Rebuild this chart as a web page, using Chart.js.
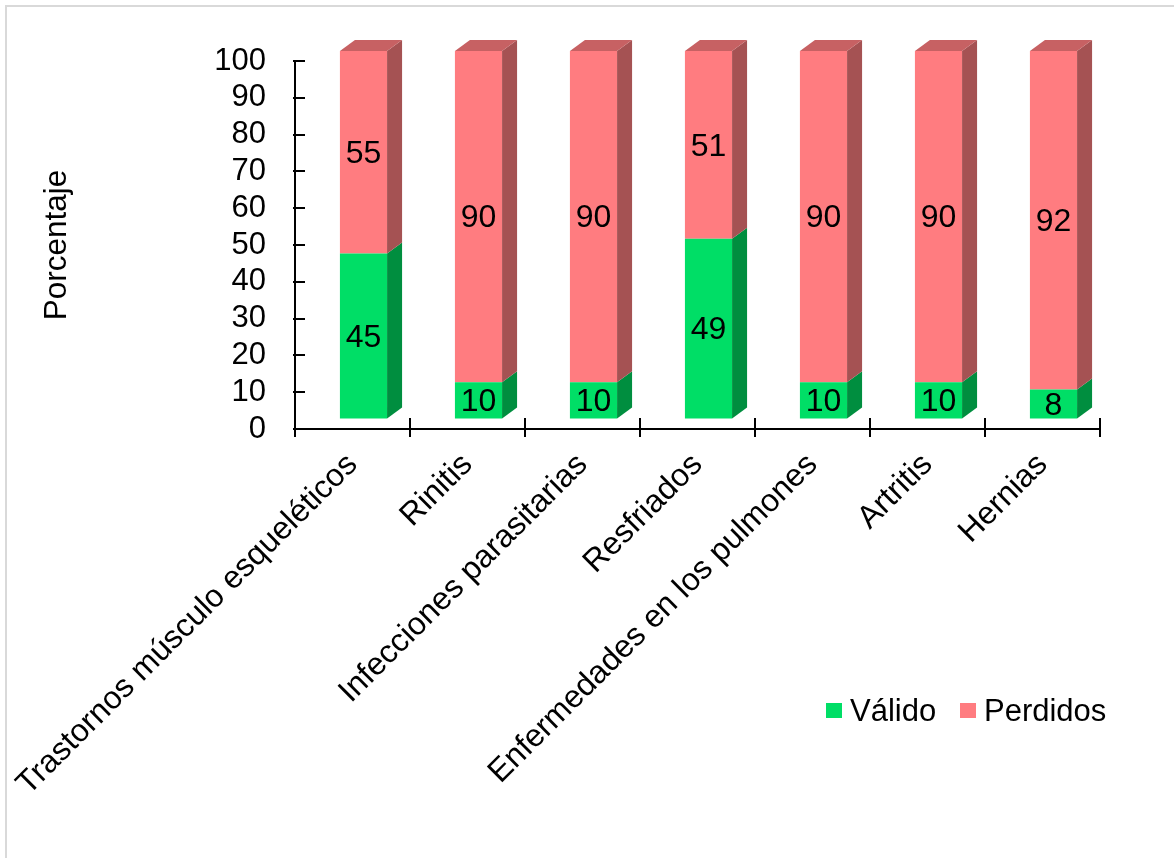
<!DOCTYPE html>
<html>
<head>
<meta charset="utf-8">
<script src="https://cdn.jsdelivr.net/npm/chart.js@4.4.1/dist/chart.umd.min.js"></script>
<style>
  html, body { margin: 0; padding: 0; background: #ffffff; }
  #wrap { position: relative; width: 1174px; height: 858px; overflow: hidden; }
  #frame { position: absolute; left: 5px; top: 5px; width: 1300px; height: 1000px;
           border-left: 2px solid #d9d9d9; border-top: 2px solid #d9d9d9; }
  canvas { position: absolute; left: 0; top: 0; }
</style>
</head>
<body>
<div id="wrap">
  <div id="frame"></div>
  <canvas id="chart" width="1174" height="858"></canvas>
</div>
<script>
// Enfermedades: porcentaje de casos válidos y perdidos
const categories = [
  'Trastornos músculo esqueléticos',
  'Rinitis',
  'Infecciones parasitarias',
  'Resfriados',
  'Enfermedades en los pulmones',
  'Artritis',
  'Hernias'
];
const valido   = [45, 10, 10, 49, 10, 10, 8];
const perdidos = [55, 90, 90, 51, 90, 90, 92];
const yTickValues = [0, 10, 20, 30, 40, 50, 60, 70, 80, 90, 100];
const seriesNames = ['Válido', 'Perdidos'];

const FONT = "'Liberation Sans', Arial, sans-serif";
const frontColors = ['#00DE66', '#FF7C80'];
const sideColors  = ['#008E3F', '#A55253'];
const topColors   = ['#00B653', '#C76163'];

// perspective of the pseudo-3D columns
const SHIFT_X = 11, SHIFT_Y = -10;   // front face offset from the axis wall
const DEPTH_X = 15, DEPTH_Y = -11;   // column depth

const PLOT = { left: 295, right: 1100, top: 61, bottom: 429 };
const W = 1174, H = 858;
const PAD_LEFT = 38;

const columns3d = {
  id: 'columns3d',
  beforeDatasetsDraw(chart) {
    chart.ctx.save();
    chart.ctx.translate(SHIFT_X, SHIFT_Y);
  },
  afterDatasetsDraw(chart) {
    const ctx = chart.ctx;
    const last = chart.data.datasets.length - 1;
    chart.data.datasets.forEach((ds, di) => {
      const meta = chart.getDatasetMeta(di);
      meta.data.forEach((bar) => {
        const p = bar.getProps(['x', 'y', 'base', 'width'], true);
        const l = p.x - p.width / 2, r = p.x + p.width / 2;
        ctx.fillStyle = sideColors[di];
        ctx.beginPath();
        ctx.moveTo(r, p.y);
        ctx.lineTo(r + DEPTH_X, p.y + DEPTH_Y);
        ctx.lineTo(r + DEPTH_X, p.base + DEPTH_Y);
        ctx.lineTo(r, p.base);
        ctx.closePath();
        ctx.fill();
        if (di === last) {
          ctx.fillStyle = topColors[di];
          ctx.beginPath();
          ctx.moveTo(l, p.y);
          ctx.lineTo(l + DEPTH_X, p.y + DEPTH_Y);
          ctx.lineTo(r + DEPTH_X, p.y + DEPTH_Y);
          ctx.lineTo(r, p.y);
          ctx.closePath();
          ctx.fill();
        }
      });
    });
    // value labels on the front faces
    ctx.fillStyle = '#000000';
    ctx.font = '32px ' + FONT;
    ctx.textAlign = 'center';
    ctx.textBaseline = 'middle';
    chart.data.datasets.forEach((ds, di) => {
      const meta = chart.getDatasetMeta(di);
      meta.data.forEach((bar, i) => {
        const p = bar.getProps(['x', 'y', 'base'], true);
        ctx.fillText(String(ds.data[i]), p.x, (p.y + p.base) / 2 + 2);
      });
    });
    ctx.restore();
  },
  afterDraw(chart) {
    const ctx = chart.ctx;
    const xs = chart.scales.x, ys = chart.scales.y;
    ctx.save();
    ctx.strokeStyle = '#000000';
    ctx.lineWidth = 2;
    // inward tick marks on the value axis
    yTickValues.forEach(v => {
      const y = Math.round(ys.getPixelForValue(v));
      ctx.beginPath();
      ctx.moveTo(xs.left - 2, y);
      ctx.lineTo(xs.left + 10, y);
      ctx.stroke();
    });
    // category separators crossing the base line
    const n = categories.length;
    for (let i = 0; i <= n; i++) {
      const x = Math.round(xs.left + i * (xs.right - xs.left) / n);
      ctx.beginPath();
      ctx.moveTo(x, ys.bottom - 11);
      ctx.lineTo(x, ys.bottom + 8);
      ctx.stroke();
    }
    // legend
    const items = [
      { x: 826, text: seriesNames[0], color: frontColors[0] },
      { x: 960, text: seriesNames[1], color: frontColors[1] }
    ];
    ctx.font = '31px ' + FONT;
    ctx.textAlign = 'left';
    ctx.textBaseline = 'middle';
    items.forEach(it => {
      ctx.fillStyle = it.color;
      ctx.fillRect(it.x, 703, 16, 15);
      ctx.fillStyle = '#000000';
      ctx.fillText(it.text, it.x + 24, 712);
    });
    ctx.restore();
  }
};

new Chart(document.getElementById('chart'), {
  type: 'bar',
  data: {
    labels: categories,
    datasets: [
      { label: seriesNames[0], data: valido, backgroundColor: frontColors[0], clip: false },
      { label: seriesNames[1], data: perdidos, backgroundColor: frontColors[1], clip: false }
    ]
  },
  options: {
    responsive: false,
    animation: false,
    devicePixelRatio: 1,
    layout: { padding: { left: PAD_LEFT, top: PLOT.top, right: W - PLOT.right, bottom: 0 } },
    datasets: { bar: { categoryPercentage: 0.82, barPercentage: 0.5 } },
    plugins: { legend: { display: false }, tooltip: { enabled: false } },
    scales: {
      x: {
        stacked: true,
        grid: { display: true, drawOnChartArea: false, drawTicks: false },
        border: { display: true, color: '#000000', width: 2 },
        ticks: {
          color: '#000000',
          font: { family: FONT, size: 32 },
          maxRotation: 45, minRotation: 45, autoSkip: false,
          padding: 17
        },
        afterFit(scale) {
          scale.height = H - PLOT.bottom;
          scale.paddingLeft = 0;
          scale.paddingRight = 0;
        }
      },
      y: {
        stacked: true,
        min: 0, max: 100,
        afterBuildTicks(scale) { scale.ticks = yTickValues.map(v => ({ value: v })); },
        grid: { display: true, drawOnChartArea: false, drawTicks: false },
        border: { display: true, color: '#000000', width: 2 },
        ticks: {
          color: '#000000',
          font: { family: FONT, size: 31 },
          autoSkip: false,
          padding: 29
        },
        title: {
          display: true,
          text: 'Porcentaje',
          color: '#000000',
          font: { family: FONT, size: 31.5 },
          padding: { top: 0, bottom: 0 }
        },
        afterFit(scale) { scale.width = PLOT.left - PAD_LEFT; }
      }
    }
  },
  plugins: [columns3d]
});
</script>
</body>
</html>
